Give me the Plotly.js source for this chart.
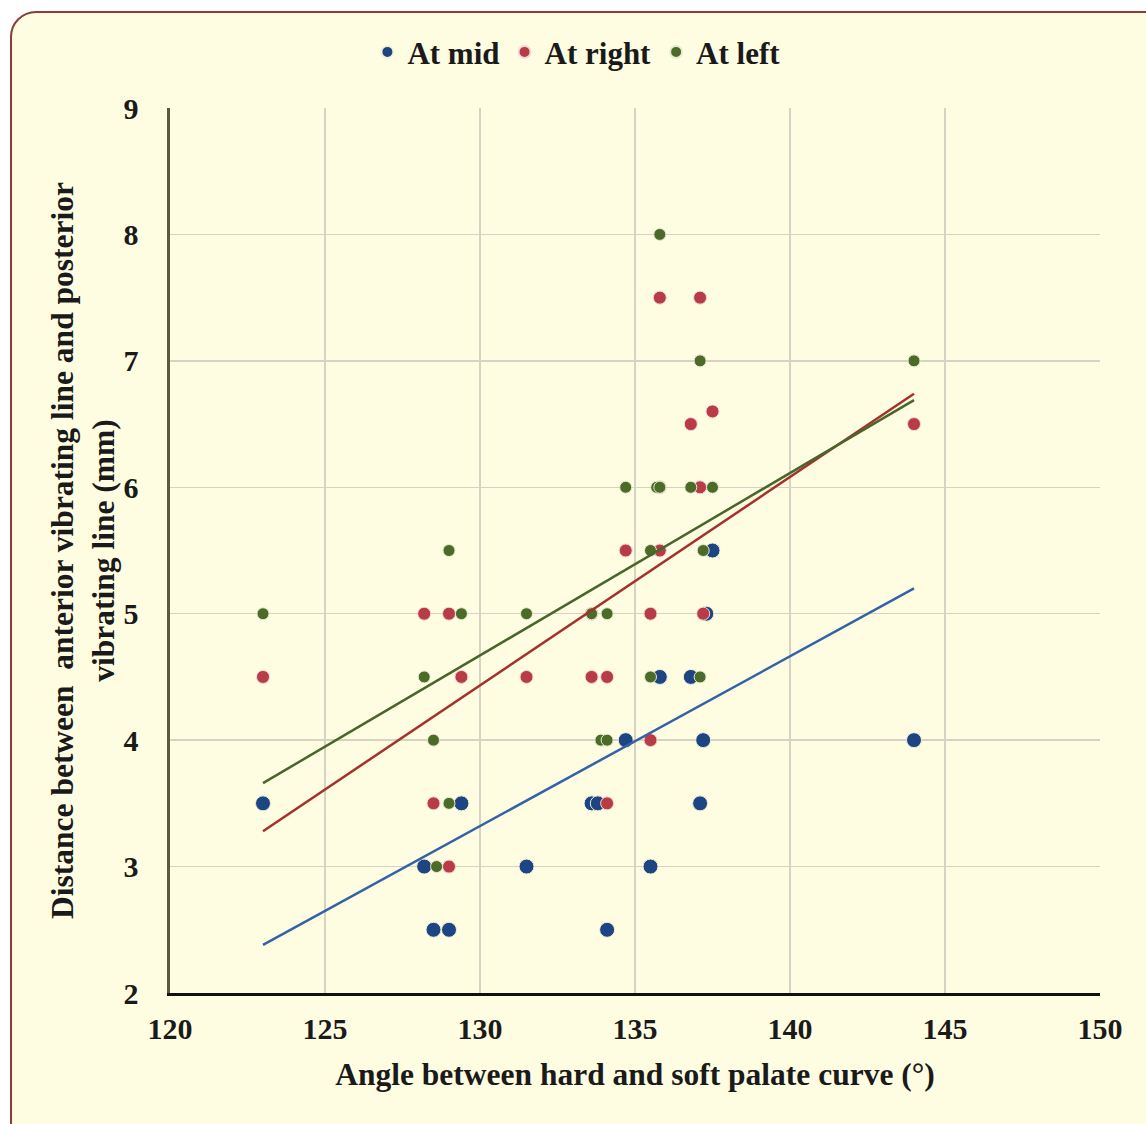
<!DOCTYPE html>
<html><head><meta charset="utf-8">
<script src="https://cdn.plot.ly/plotly-3.0.1.min.js"></script>
<style>
html,body{margin:0;padding:0;background:#ffffff;width:1146px;height:1124px;overflow:hidden;}
#frame{position:absolute;left:10px;top:11px;width:1160px;height:1140px;border:2px solid #8e3b3b;border-radius:26px;background:#fffde1;box-shadow:3px 3px 2px #b23a3a;}
#chart{position:absolute;left:0;top:0;width:1146px;height:1124px;}
</style></head>
<body>
<div id="frame"></div>
<div id="chart"></div>
<script>
// At mid
const midX = [123, 128.2, 128.5, 129.0, 129.4, 131.5, 133.6, 133.8, 134.1, 134.7, 135.5, 135.8, 136.8, 137.1, 137.2, 137.3, 137.5, 144];
const midY = [3.5, 3.0, 2.5, 2.5, 3.5, 3.0, 3.5, 3.5, 2.5, 4.0, 3.0, 4.5, 4.5, 3.5, 4.0, 5.0, 5.5, 4.0];
// At right
const rightX = [123, 128.2, 128.5, 129.0, 129.0, 129.4, 131.5, 133.6, 133.6, 134.1, 134.1, 134.7, 135.5, 135.5, 135.8, 135.8, 135.8, 137.1, 136.8, 137.5, 137.1, 137.2, 144];
const rightY = [4.5, 5.0, 3.5, 5.0, 3.0, 4.5, 4.5, 5.0, 4.5, 4.5, 3.5, 5.5, 5.0, 4.0, 7.5, 5.5, 6.0, 7.5, 6.5, 6.6, 6.0, 5.0, 6.5];
// At left
const leftX = [123, 128.2, 128.5, 128.6, 129.0, 129.0, 129.4, 131.5, 133.6, 134.1, 133.9, 134.1, 134.7, 135.5, 135.5, 135.7, 135.8, 135.8, 136.8, 137.1, 137.1, 137.2, 137.5, 144];
const leftY = [5.0, 4.5, 4.0, 3.0, 5.5, 3.5, 5.0, 5.0, 5.0, 5.0, 4.0, 4.0, 6.0, 4.5, 5.5, 6.0, 6.0, 8.0, 6.0, 7.0, 4.5, 5.5, 6.0, 7.0];
// Linear trend endpoints
const trendX = [123, 144];
const midTrendY = [2.38, 5.2];
const rightTrendY = [3.28, 6.74];
const leftTrendY = [3.66, 6.69];

const xTicks = [120, 125, 130, 135, 140, 145, 150];
const yTicks = [2, 3, 4, 5, 6, 7, 8, 9];

const cMid = '#1c4582', cRight = '#b83c46', cLeft = '#4d6b28';
const lMid = '#3462a8', lRight = '#a5302c', lLeft = '#48662a';
const serif = '"Liberation Serif", "Times New Roman", serif';

const traces = [
  {x: midX, y: midY, type: 'scatter', mode: 'markers', name: 'At mid',
   marker: {color: cMid, size: 15, line: {color: '#f3f1d8', width: 1}}},
  {x: rightX, y: rightY, type: 'scatter', mode: 'markers', name: 'At right',
   marker: {color: cRight, size: 13, line: {color: '#f3d8d8', width: 1}}},
  {x: leftX, y: leftY, type: 'scatter', mode: 'markers', name: 'At left',
   marker: {color: cLeft, size: 12, line: {color: '#e6ecd0', width: 1}}},
  {x: trendX, y: midTrendY, type: 'scatter', mode: 'lines', showlegend: false,
   line: {color: lMid, width: 2.5}, hoverinfo: 'skip'},
  {x: trendX, y: rightTrendY, type: 'scatter', mode: 'lines', showlegend: false,
   line: {color: lRight, width: 2.5}, hoverinfo: 'skip'},
  {x: trendX, y: leftTrendY, type: 'scatter', mode: 'lines', showlegend: false,
   line: {color: lLeft, width: 2.5}, hoverinfo: 'skip'}
];

const layout = {
  width: 1146, height: 1124,
  paper_bgcolor: 'rgba(0,0,0,0)', plot_bgcolor: '#fffde1',
  margin: {l: 170, r: 46, t: 108, b: 131, autoexpand: false},
  font: {family: serif, color: '#1a1a1a'},
  showlegend: true,
  legend: {orientation: 'h', x: 0.437, xanchor: 'center', y: 1.063, yanchor: 'middle',
           font: {family: serif, size: 31, color: '#1a1a1a', weight: 'bold'},
           itemsizing: 'constant', bgcolor: 'rgba(0,0,0,0)', itemwidth: 14, tracegroupgap: 0,
           entrywidth: 0},
  xaxis: {
    range: [120, 150], tickvals: xTicks, ticktext: xTicks.map(String),
    showgrid: true, gridcolor: '#d6d3c4', gridwidth: 1.5,
    showline: true, linecolor: '#111111', linewidth: 2.5,
    ticks: '', zeroline: false, ticklabelstandoff: 7,
    tickfont: {family: serif, size: 30, color: '#1a1a1a', weight: 'bold'},
    title: {text: 'Angle between hard and soft palate curve (°)', standoff: 20,
            font: {family: serif, size: 31.5, color: '#1a1a1a', weight: 'bold'}}
  },
  yaxis: {
    range: [2, 9], tickvals: yTicks, ticktext: yTicks.map(String),
    showgrid: true, gridcolor: '#d6d3c4', gridwidth: 1.5,
    showline: true, linecolor: '#5c5a3c', linewidth: 3.5,
    ticks: '', zeroline: false, ticklabelstandoff: 22,
    tickfont: {family: serif, size: 30, color: '#1a1a1a', weight: 'bold'},
    title: {text: 'Distance between  anterior vibrating line and posterior<br>vibrating line (mm)', standoff: 0,
            font: {family: serif, size: 31.5, color: '#1a1a1a', weight: 'bold'}}
  }
};

Plotly.newPlot('chart', traces, layout, {displayModeBar: false, staticPlot: true});
</script>
</body></html>
